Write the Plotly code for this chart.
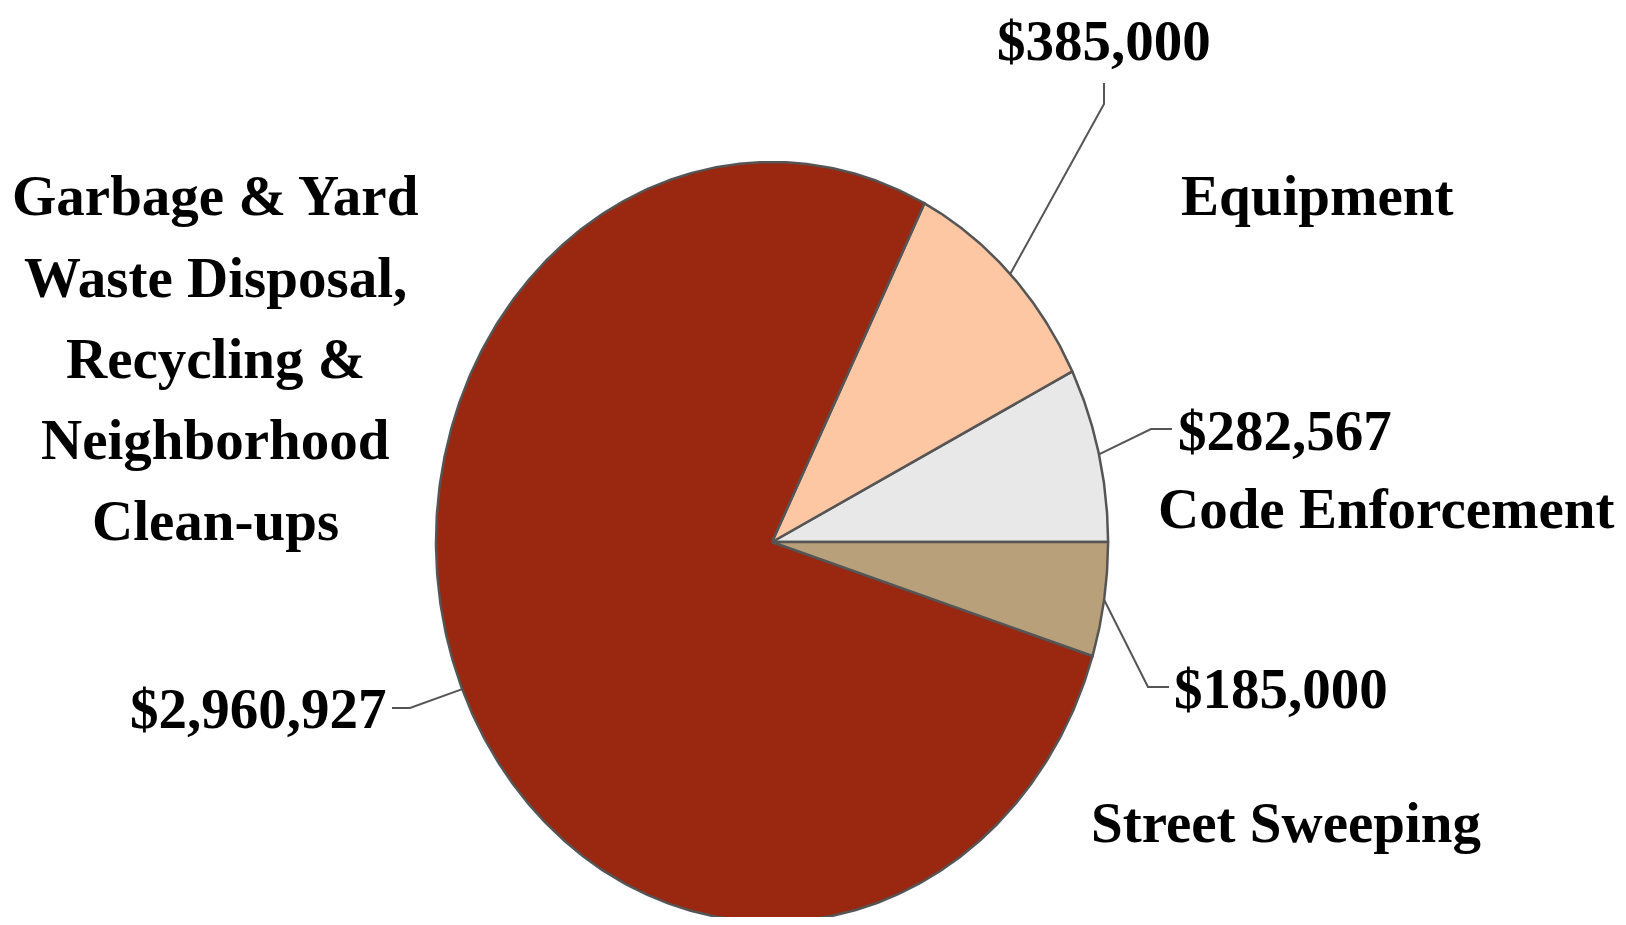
import numpy as np
import plotly.graph_objects as go

# Data (counter-clockwise from 3 o'clock)
categories = ["Code Enforcement", "Equipment",
              "Garbage & Yard<br>Waste Disposal,<br>Recycling &<br>Neighborhood<br>Clean-ups",
              "Street Sweeping"]
values = [282567, 385000, 2960927, 185000]
value_labels = ["$282,567", "$385,000", "$2,960,927", "$185,000"]
colors = ["#E8E8E8", "#FEC7A4", "#9A2710", "#B8A07A"]

W, H = 1626, 925
BM = 8  # page body margin
cx, cy, rx, ry = 772, 542, 336, 380
FONT = dict(family="Liberation Serif, Times New Roman, serif", size=57, color="#000000", weight="bold")
EDGE = "#555555"

fig = go.Figure()
total = float(sum(values))
start = 0.0
mids = []
for cat, v, c in zip(categories, values, colors):
    span = 360.0 * v / total
    th = np.radians(np.linspace(start, start + span, max(int(span * 2), 8)))
    xs = np.concatenate([[cx], cx + rx * np.cos(th), [cx]])
    ys = np.concatenate([[cy], cy - ry * np.sin(th), [cy]])
    fig.add_trace(go.Scatter(x=xs, y=ys, mode="lines", fill="toself", fillcolor=c,
                             line=dict(color=EDGE, width=2.5), hoverinfo="skip", showlegend=False))
    mids.append(np.radians(start + span / 2))
    start += span

# leader lines: (elbow, end) per slice
leaders = [
    [(1151, 429), (1172, 429)],   # Code Enforcement
    [(1104, 104), (1104, 83)],    # Equipment
    [(410, 708), (392, 708)],     # Garbage
    [(1148, 687), (1169, 687)],   # Street Sweeping
]
for m, pts in zip(mids, leaders):
    x0 = cx + rx * np.cos(m)
    y0 = cy - ry * np.sin(m)
    fig.add_trace(go.Scatter(x=[x0] + [p[0] for p in pts], y=[y0] + [p[1] for p in pts],
                             mode="lines", line=dict(color=EDGE, width=2),
                             hoverinfo="skip", showlegend=False))

def ann(text, x, y, xanchor="center", yanchor="middle", yref="y", yshift=0):
    fig.add_annotation(x=x, y=y, xref="x", yref=yref, text=text, showarrow=False,
                       xanchor=xanchor, yanchor=yanchor, font=FONT, borderpad=0, yshift=yshift)

# value labels
ann(value_labels[0], 1177, 430, "left")
ann(value_labels[1], 1104, 1, "center", "top", yref="paper", yshift=0)
ann(value_labels[2], 388, 708, "right")
ann(value_labels[3], 1173, 688, "left")

# category labels
ann(categories[0], 1615, 508, "right")
ann(categories[1], 1317, 195)
ann(categories[3], 1286, 822)
gl = categories[2].split("<br>")
line_y = [195, 277, 358, 439, 520]
for t, yy in zip(gl, line_y):
    ann(t, 215, yy)

fig.update_layout(
    width=W - 2 * BM, height=H - 2 * BM, margin=dict(l=0, r=0, t=0, b=0),
    paper_bgcolor="white", plot_bgcolor="white",
    xaxis=dict(range=[BM, W - BM], visible=False, fixedrange=True),
    yaxis=dict(range=[H - BM, BM], visible=False, fixedrange=True),
)
fig.write_html("out.html")
